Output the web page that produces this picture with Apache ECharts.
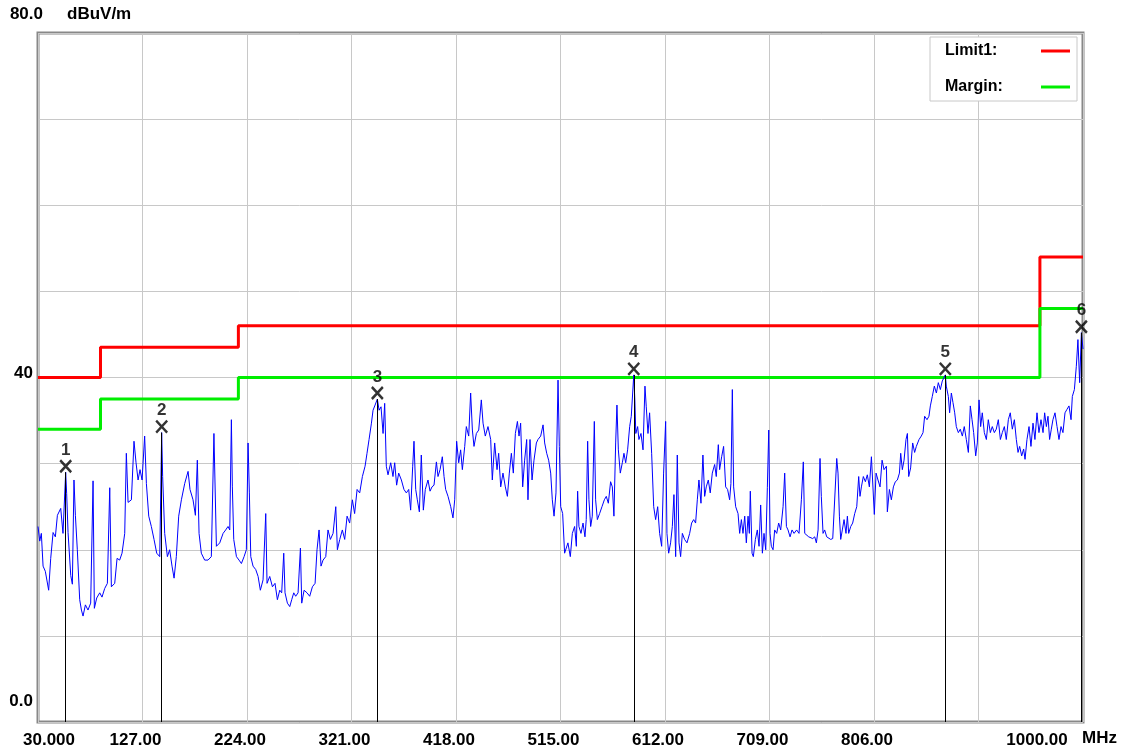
<!DOCTYPE html>
<html>
<head>
<meta charset="utf-8">
<script src="https://cdn.jsdelivr.net/npm/echarts@6/dist/echarts.min.js"></script>
<style>
  html, body { margin: 0; padding: 0; background: #ffffff; }
  #chart { width: 1123px; height: 751px; }
</style>
</head>
<body>
<div id="chart"></div>
<script>
// Frequency span (MHz) and grid spacing
const F_START = 30;
const F_STOP = 1000;
const F_STEP = 97;

// Axis tick labels
const xTickLabels = ['30.000', '127.00', '224.00', '321.00', '418.00', '515.00', '612.00', '709.00', '806.00', '', '1000.00'];
const yTickLabels = { 0: '0.0', 40: '40', 80: '80.0' };

// Limit and margin lines: band edges (MHz) and level per band (dBuV/m)
const limitEdges = [30, 88, 216, 960, 1000];
const limitLevels = [40, 43.5, 46, 54];
const marginLevels = [34, 37.5, 40, 48];

// Measured trace: frequency (MHz) and level (dBuV/m)
const traceFreq = [
  30.0, 31.6, 33.1, 34.7, 36.8, 39.9, 41.8, 44.0, 46.1, 48.0, 51.1, 53.2, 55.7, 56.6, 57.9, 60.4, 61.9, 63.4, 64.7, 66.5,
  68.7, 70.3, 71.8, 74.0, 76.4, 78.9, 81.1, 82.3, 84.5, 87.3, 89.4, 91.9, 94.4, 96.6, 98.1, 101.2, 103.4, 105.8, 108.0, 110.5,
  112.0, 113.6, 116.7, 119.1, 121.0, 122.9, 124.7, 126.6, 129.0, 130.6, 132.8, 135.2, 137.7, 140.2, 143.0, 144.8, 145.7, 147.6, 150.1, 152.2,
  154.4, 156.3, 158.4, 160.6, 163.1, 166.2, 169.3, 171.1, 173.9, 176.1, 177.9, 179.5, 181.6, 184.7, 187.8, 190.9, 193.3, 195.6, 198.7, 201.8,
  204.2, 206.4, 208.0, 209.5, 210.4, 211.7, 214.2, 216.6, 218.8, 221.3, 223.4, 225.0, 226.2, 227.5, 229.6, 232.1, 234.3, 236.4, 238.9, 241.4,
  242.6, 245.1, 247.6, 250.0, 252.2, 254.4, 256.2, 258.1, 259.3, 261.5, 263.7, 265.5, 267.4, 269.2, 271.4, 273.6, 274.8, 277.0, 279.7, 282.2,
  284.7, 287.2, 289.0, 290.9, 292.7, 294.6, 297.1, 299.2, 301.4, 303.9, 306.4, 307.9, 310.1, 312.5, 314.7, 316.9, 319.3, 321.8, 323.9, 326.2,
  328.6, 331.1, 333.6, 335.4, 337.3, 339.5, 341.0, 342.9, 345.0, 346.6, 348.4, 350.3, 351.8, 353.3, 354.9, 357.4, 359.5, 361.1, 362.9, 364.8,
  367.3, 369.7, 371.9, 374.1, 375.9, 377.8, 379.0, 380.6, 382.1, 384.0, 385.8, 387.7, 389.5, 392.0, 393.9, 395.7, 397.6, 399.8, 401.3, 403.2,
  405.3, 406.9, 408.4, 410.6, 413.1, 415.2, 416.8, 418.6, 420.5, 422.3, 423.9, 426.1, 427.6, 429.8, 431.6, 433.2, 434.7, 436.9, 439.1, 441.5,
  443.1, 445.2, 447.7, 450.2, 451.7, 453.9, 456.1, 457.6, 459.5, 461.6, 463.8, 465.7, 467.5, 469.4, 471.2, 473.1, 475.0, 476.5, 478.0, 479.9,
  481.7, 483.6, 484.8, 486.7, 488.6, 490.4, 492.6, 494.1, 496.6, 498.8, 500.3, 502.2, 504.0, 505.9, 507.4, 509.0, 510.8, 512.7, 513.9, 515.2,
  517.0, 518.8, 520.4, 521.9, 524.1, 526.0, 528.1, 529.7, 530.9, 532.1, 534.0, 535.9, 537.7, 538.9, 540.2, 541.4, 543.0, 544.5, 546.4, 547.6,
  549.2, 551.3, 553.5, 555.7, 557.5, 559.4, 561.5, 563.1, 564.6, 566.2, 567.4, 568.7, 570.5, 572.4, 573.9, 575.5, 577.3, 579.2, 580.7, 583.0,
  584.0, 584.9, 586.6, 587.8, 589.7, 591.6, 593.4, 594.6, 596.2, 597.7, 599.6, 601.5, 603.3, 605.2, 607.0, 608.9, 610.7, 612.6, 613.8, 615.4,
  617.2, 618.8, 620.3, 621.9, 623.4, 625.0, 626.5, 628.1, 630.2, 632.4, 634.9, 636.7, 638.6, 640.4, 642.0, 643.5, 645.4, 647.2, 648.8, 650.3,
  652.2, 654.0, 655.9, 658.1, 659.6, 661.5, 662.7, 664.6, 666.4, 668.3, 670.1, 672.0, 673.2, 674.5, 675.7, 677.6, 679.8, 681.3, 682.9, 684.4,
  686.0, 687.5, 689.1, 690.3, 691.2, 692.8, 694.0, 695.9, 697.7, 699.3, 700.8, 702.4, 703.9, 705.5, 707.0, 708.3, 709.5, 710.7, 712.3, 713.8,
  715.7, 717.5, 719.4, 721.6, 723.1, 724.7, 726.2, 728.1, 729.9, 731.8, 734.2, 736.4, 738.6, 740.4, 741.7, 743.5, 745.4, 747.2, 749.1, 751.0,
  752.5, 754.1, 755.9, 757.1, 758.7, 760.2, 762.1, 763.9, 765.8, 767.7, 769.5, 771.4, 772.6, 773.9, 775.1, 776.6, 778.2, 780.0, 781.3, 782.5,
  784.4, 786.2, 788.1, 790.0, 791.8, 793.0, 794.3, 796.1, 798.0, 799.8, 801.7, 803.6, 804.8, 806.3, 807.9, 809.7, 811.6, 813.5, 815.3, 817.5,
  818.4, 820.3, 822.1, 824.0, 825.8, 827.7, 829.6, 830.8, 832.3, 833.9, 835.7, 837.0, 838.2, 840.0, 841.9, 843.7, 845.3, 847.8, 849.9, 851.5,
  853.0, 855.2, 857.0, 858.3, 860.1, 862.0, 863.9, 865.7, 867.6, 869.4, 872.2, 873.1, 875.0, 876.2, 877.8, 879.3, 880.9, 882.4, 884.3, 886.1,
  888.0, 889.8, 891.7, 893.6, 895.4, 897.0, 898.5, 900.4, 901.9, 903.5, 905.0, 906.5, 908.4, 910.3, 912.1, 914.0, 915.8, 917.7, 919.5, 921.4,
  923.3, 925.1, 927.0, 928.8, 930.7, 932.5, 934.4, 936.3, 938.1, 939.7, 941.2, 943.1, 944.9, 946.2, 948.0, 949.9, 951.7, 953.6, 955.4, 957.3,
  959.1, 961.0, 962.9, 964.4, 966.0, 967.5, 969.0, 970.6, 972.1, 974.0, 975.9, 977.7, 979.6, 981.4, 983.3, 985.1, 987.0, 988.9, 990.1, 992.0,
  993.8, 995.3, 996.9, 998.5, 1000.0
];
const traceLevel = [
  22.7, 21.0, 21.9, 18.1, 17.5, 15.3, 19.0, 22.0, 21.5, 24.0, 24.8, 21.9, 29.0, 26.5, 22.0, 17.0, 16.0, 28.1, 24.0, 20.0,
  14.2, 13.0, 12.3, 13.6, 13.0, 13.8, 28.0, 13.2, 14.4, 15.0, 14.5, 15.5, 16.1, 27.2, 15.7, 16.1, 19.0, 18.8, 19.6, 21.9,
  31.2, 25.5, 25.8, 32.6, 30.1, 28.1, 29.3, 28.1, 33.2, 27.7, 23.9, 22.7, 21.2, 19.6, 19.2, 33.6, 28.5, 21.9, 19.2, 20.0,
  18.1, 16.7, 19.2, 23.9, 25.8, 27.7, 29.1, 27.0, 25.8, 24.0, 30.4, 21.9, 19.6, 18.8, 18.8, 19.2, 33.5, 20.4, 20.8, 21.9,
  22.3, 22.7, 22.3, 35.1, 27.3, 21.2, 19.2, 18.8, 18.4, 19.2, 20.0, 32.4, 26.6, 19.2, 18.1, 17.7, 16.9, 15.3, 16.5, 24.2,
  16.1, 16.9, 15.7, 16.1, 14.2, 15.3, 15.0, 19.6, 15.0, 13.8, 13.4, 14.2, 15.0, 14.6, 15.0, 20.2, 13.8, 15.3, 15.0, 14.6,
  15.7, 16.1, 20.0, 22.3, 18.1, 18.8, 19.2, 22.3, 21.2, 21.9, 25.0, 20.0, 21.2, 22.3, 21.2, 23.9, 23.1, 25.8, 24.2, 27.0,
  26.6, 28.5, 29.7, 31.2, 32.8, 34.7, 36.2, 36.8, 37.5, 36.2, 36.6, 33.5, 37.0, 29.7, 28.7, 30.1, 28.5, 30.1, 27.5, 28.9,
  28.1, 27.0, 26.6, 27.0, 24.6, 29.7, 32.6, 27.0, 25.8, 24.4, 31.0, 24.6, 27.0, 28.1, 26.8, 27.3, 27.5, 30.2, 28.5, 29.3,
  30.8, 28.5, 27.0, 26.2, 25.0, 23.7, 25.8, 32.6, 30.1, 31.6, 29.3, 32.0, 34.3, 33.2, 38.2, 33.9, 32.0, 33.5, 33.9, 37.4,
  34.7, 33.2, 34.3, 32.8, 28.1, 32.4, 29.3, 31.2, 27.3, 28.9, 27.3, 26.2, 28.9, 31.2, 28.9, 33.5, 34.9, 33.2, 34.7, 27.3,
  30.4, 32.8, 25.8, 32.8, 28.1, 30.4, 32.4, 32.8, 33.2, 34.5, 32.4, 31.2, 30.4, 28.9, 25.8, 23.9, 26.6, 39.7, 32.0, 25.0,
  24.2, 19.6, 19.6, 20.8, 19.2, 21.9, 22.7, 20.4, 26.8, 22.7, 21.9, 23.1, 21.5, 23.5, 32.6, 25.8, 22.7, 23.9, 34.9, 25.8,
  23.5, 24.2, 25.0, 25.8, 26.2, 25.4, 27.9, 27.3, 23.9, 32.4, 36.8, 31.6, 28.9, 30.1, 31.2, 30.1, 31.6, 34.3, 35.5, 40.3,
  37.4, 33.5, 34.3, 32.8, 33.5, 31.6, 39.0, 36.6, 33.5, 35.9, 31.2, 25.0, 23.5, 25.0, 21.9, 20.4, 28.9, 34.9, 21.9, 19.6,
  20.8, 22.7, 26.4, 19.2, 31.0, 20.8, 19.2, 21.9, 21.2, 20.8, 21.9, 23.1, 23.5, 23.1, 25.8, 28.1, 25.4, 31.0, 26.2, 27.3,
  28.1, 26.6, 28.9, 29.9, 28.5, 32.2, 29.3, 30.8, 32.0, 27.3, 27.0, 25.8, 27.7, 38.6, 27.3, 25.0, 24.2, 21.9, 23.5, 21.9,
  23.9, 20.8, 23.9, 21.9, 26.8, 19.6, 19.2, 21.2, 22.3, 20.4, 25.2, 19.6, 21.9, 20.0, 27.2, 33.9, 21.9, 20.4, 20.0, 22.3,
  21.9, 23.1, 22.3, 25.0, 28.9, 22.7, 22.3, 21.5, 22.3, 21.9, 22.3, 21.9, 25.8, 30.2, 21.9, 21.7, 21.5, 21.5, 21.3, 21.5,
  20.8, 22.3, 30.6, 26.2, 21.9, 22.3, 21.5, 21.5, 21.2, 21.3, 21.5, 30.6, 28.9, 23.9, 21.2, 22.3, 23.5, 21.9, 23.9, 21.9,
  22.7, 23.1, 24.2, 25.0, 28.5, 26.2, 27.3, 28.5, 27.9, 28.7, 27.3, 30.8, 31.0, 24.1, 28.9, 28.1, 27.3, 30.4, 29.3, 29.7,
  24.4, 27.0, 25.8, 27.3, 27.9, 28.1, 28.9, 31.2, 29.3, 30.4, 32.8, 33.5, 28.5, 29.5, 32.4, 31.3, 32.0, 32.8, 33.2, 33.6,
  35.5, 35.1, 35.5, 36.7, 37.8, 39.0, 38.2, 39.4, 38.6, 39.6, 40.3, 39.0, 37.8, 35.9, 38.2, 37.1, 35.9, 34.3, 33.6, 34.0,
  33.2, 34.3, 32.8, 31.3, 36.7, 35.1, 33.6, 30.9, 32.4, 37.4, 34.3, 35.9, 33.6, 32.8, 35.1, 33.6, 34.3, 33.6, 34.0, 35.1,
  32.8, 33.6, 34.3, 32.8, 35.1, 35.9, 34.0, 35.1, 32.8, 31.3, 32.0, 30.9, 31.7, 30.5, 32.8, 34.3, 32.0, 34.7, 32.8, 35.9,
  33.6, 35.1, 33.6, 35.9, 34.3, 35.5, 32.8, 34.0, 35.1, 35.9, 34.3, 32.8, 34.3, 33.6, 35.9, 36.3, 36.7, 35.1, 37.8, 38.6,
  41.3, 44.4, 39.4, 45.2, 43.3
];

// Peak markers 1..6
const markerFreq = [55.7, 144.8, 345.0, 583.0, 872.2, 998.5];
const markerLevel = [29.0, 33.6, 37.5, 40.3, 40.3, 45.2];

const FONT = '"Liberation Sans", Arial, sans-serif';

// Step line through band edges
function stepData(edges, levels) {
  const pts = [];
  for (let i = 0; i < levels.length; i++) {
    pts.push([edges[i] - F_START, levels[i]]);
    pts.push([edges[i + 1] - F_START, levels[i]]);
  }
  return pts;
}

const traceData = traceFreq.map((f, i) => [f - F_START, traceLevel[i]]);
const markerData = markerFreq.map((f, i) => [f - F_START, markerLevel[i]]);
const markerLines = markerFreq.map((f, i) => [
  { coord: [f - F_START, markerLevel[i]] },
  { coord: [f - F_START, 0] }
]);

const chart = echarts.init(document.getElementById('chart'), null, { renderer: 'canvas' });

chart.setOption({
  animation: false,
  backgroundColor: '#ffffff',
  textStyle: { fontFamily: FONT },
  grid: {
    left: 38, right: 40, top: 33, bottom: 29,
    outerBoundsMode: 'none',
    containLabel: false,
    show: true,
    backgroundColor: '#ffffff',
    borderColor: '#888888',
    borderWidth: 3
  },
  legend: {
    data: ['Limit1:', 'Margin:'],
    orient: 'vertical',
    left: 930,
    top: 37,
    align: 'right',
    icon: 'rect',
    itemWidth: 29,
    itemHeight: 3,
    itemGap: 16,
    padding: [4, 7, 4, 15],
    borderColor: '#c8c8c8',
    borderWidth: 1,
    backgroundColor: '#ffffff',
    selectedMode: false,
    formatter: name => '{n|' + name + '}',
    textStyle: {
      fontFamily: FONT,
      fontSize: 16,
      fontWeight: 'bold',
      color: '#000000',
      lineHeight: 20,
      rich: { n: { width: 91, align: 'left' } }
    }
  },
  xAxis: {
    type: 'value',
    min: 0,
    max: F_STOP - F_START,
    interval: F_STEP,
    name: 'MHz',
    nameLocation: 'end',
    nameGap: -1,
    nameTextStyle: {
      fontFamily: FONT, fontSize: 17, fontWeight: 'bold', color: '#000000',
      align: 'left', verticalAlign: 'top', lineHeight: 32
    },
    axisLine: { show: false },
    axisTick: { show: false },
    splitLine: { show: true, lineStyle: { color: '#c8c8c8', width: 1 } },
    axisLabel: {
      show: true,
      showMinLabel: true,
      showMaxLabel: true,
      margin: 10,
      fontFamily: FONT,
      fontSize: 17,
      fontWeight: 'bold',
      color: '#000000',
      formatter: v => {
        const idx = Math.round(v / F_STEP);
        const label = xTickLabels[idx];
        if (!label) return '';
        const style = idx === 0 ? 'first' : (idx === xTickLabels.length - 1 ? 'last' : 'mid');
        return '{' + style + '|' + label + '}';
      },
      rich: {
        first: { padding: [0, 0, 0, 22] },
        mid: { padding: [0, 14, 0, 0] },
        last: { padding: [0, 92, 0, 0] }
      }
    }
  },
  yAxis: {
    type: 'value',
    min: 0,
    max: 80,
    interval: 10,
    name: 'dBuV/m',
    nameLocation: 'end',
    nameGap: 19,
    nameTextStyle: {
      fontFamily: FONT, fontSize: 17, fontWeight: 'bold', color: '#000000',
      align: 'left', verticalAlign: 'middle', padding: [0, 0, 0, 29]
    },
    axisLine: { show: false },
    axisTick: { show: false },
    splitLine: { show: true, lineStyle: { color: '#c8c8c8', width: 1 } },
    axisLabel: {
      show: true,
      showMinLabel: true,
      showMaxLabel: true,
      margin: -5,
      fontFamily: FONT,
      fontSize: 17,
      fontWeight: 'bold',
      color: '#000000',
      formatter: v => {
        const label = yTickLabels[v];
        if (!label) return '';
        const style = v === 80 ? 't' : (v === 0 ? 'b' : 'm');
        return '{' + style + '|' + label + '}';
      },
      rich: {
        t: { padding: [0, 0, 38, 0] },
        m: { padding: [0, 10, 9, 0] },
        b: { padding: [0, 10, 42, 0] }
      }
    }
  },
  series: [
    {
      name: 'Limit1:',
      type: 'line',
      data: stepData(limitEdges, limitLevels),
      symbol: 'none',
      lineStyle: { color: '#ff0000', width: 3 },
      itemStyle: { color: '#ff0000' },
      z: 2
    },
    {
      name: 'Margin:',
      type: 'line',
      data: stepData(limitEdges, marginLevels),
      symbol: 'none',
      lineStyle: { color: '#00ee00', width: 3 },
      itemStyle: { color: '#00ee00' },
      z: 2
    },
    {
      name: 'Trace',
      type: 'line',
      data: traceData,
      symbol: 'none',
      lineStyle: { color: '#0000ff', width: 1 },
      itemStyle: { color: '#0000ff' },
      z: 3
    },
    {
      name: 'Markers',
      type: 'scatter',
      data: markerData,
      symbol: 'path://M0,0L10,12M10,0L0,12',
      symbolSize: [11, 12],
      symbolOffset: [0, -6],
      itemStyle: { color: 'none', borderColor: '#000000', borderWidth: 2.5 },
      label: {
        show: true,
        position: 'top',
        distance: -1,
        fontFamily: FONT,
        fontSize: 17,
        fontWeight: 'bold',
        color: '#000000',
        formatter: p => String(p.dataIndex + 1)
      },
      markLine: {
        silent: true,
        symbol: ['none', 'none'],
        label: { show: false },
        lineStyle: { color: '#000000', width: 1, type: 'solid' },
        data: markerLines
      },
      z: 4
    }
  ]
});
</script>
</body>
</html>
